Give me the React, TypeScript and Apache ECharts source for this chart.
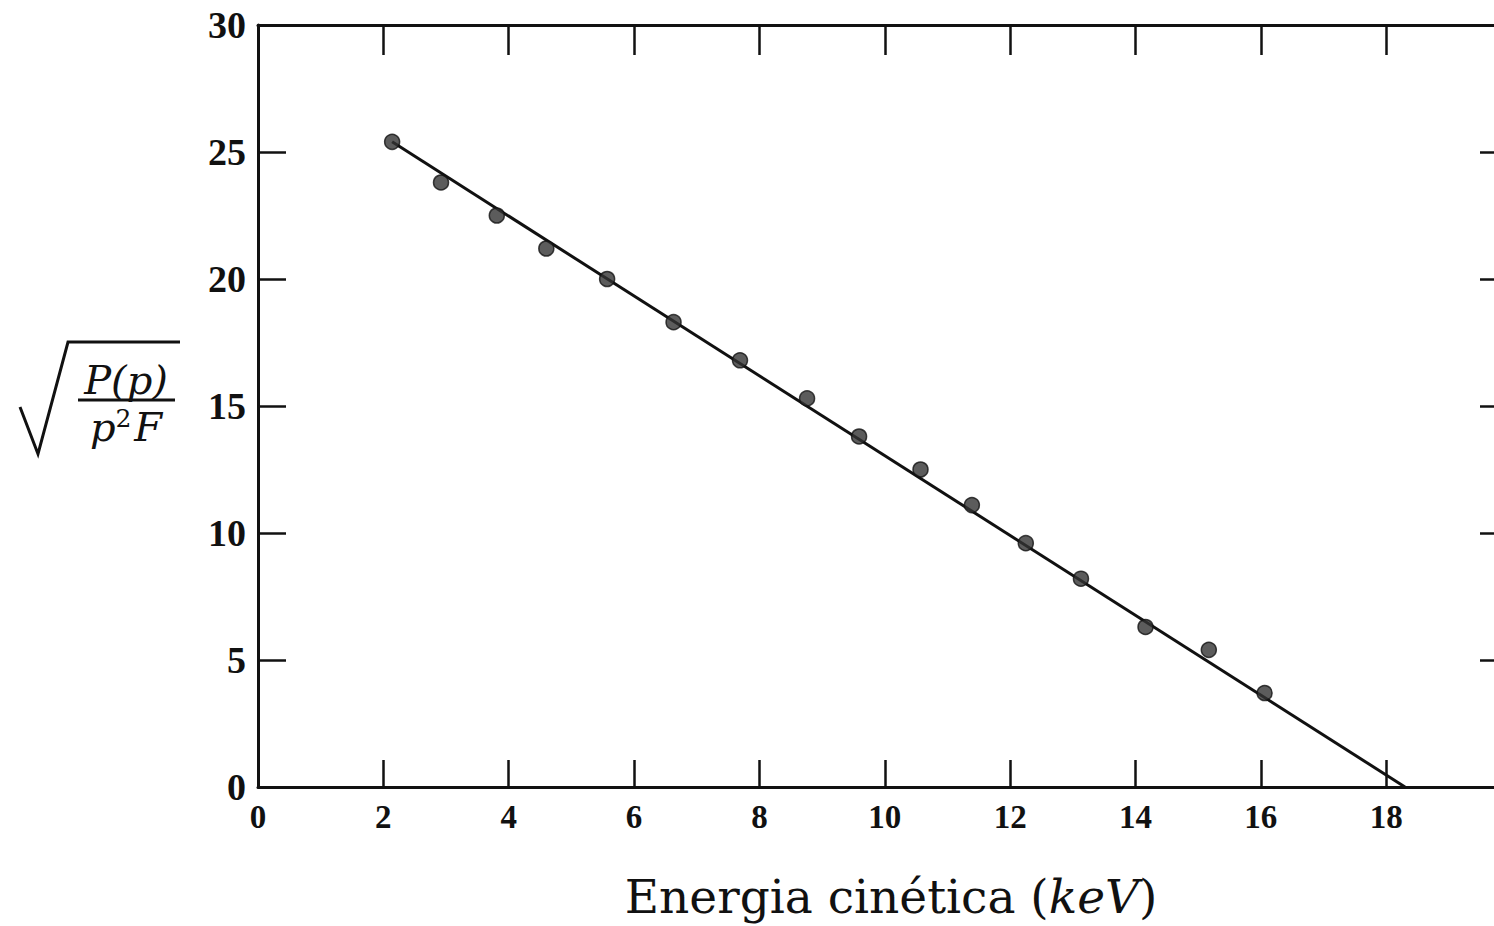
import React, { useEffect, useRef } from "react";
import * as echarts from "echarts";

const energyKeV = [2.14, 2.92, 3.81, 4.6, 5.57, 6.63, 7.69, 8.76, 9.59, 10.57, 11.39, 12.25, 13.13, 14.16, 15.17, 16.06];
const kurieValue = [25.4, 23.8, 22.5, 21.2, 20.0, 18.3, 16.8, 15.3, 13.8, 12.5, 11.1, 9.6, 8.2, 6.3, 5.4, 3.7];
const fitLineX = [2.14, 18.3];
const fitLineY = [25.4, 0];
const xTickLabels = [0, 2, 4, 6, 8, 10, 12, 14, 16, 18];
const xTicks = [2, 4, 6, 8, 10, 12, 14, 16, 18];
const yTickLabels = [0, 5, 10, 15, 20, 25, 30];
const yTicks = [5, 10, 15, 20, 25];

const SERIF = "'Liberation Serif', 'DejaVu Serif', serif";
const WIDE_SERIF = "'DejaVu Serif', 'Liberation Serif', serif";

export default function App() {
  const ref = useRef<HTMLDivElement>(null);
  useEffect(() => {
    if (!ref.current) return;
    const chart = echarts.init(ref.current, null, { renderer: "svg" });
    const axisLine = { show: true, onZero: false, lineStyle: { color: "#111", width: 3 } };
    const tickStyle = { color: "#111", width: 2.5 };
    chart.setOption({
      animation: false,
      backgroundColor: "#fff",
      grid: { left: 258, top: 25, right: 0, bottom: 139, containLabel: false },
      xAxis: [
        {
          type: "value",
          position: "bottom",
          min: 0,
          max: 19.72,
          interval: 2,
          axisLine,
          splitLine: { show: false },
          axisTick: { show: true, inside: true, length: 27, customValues: xTicks, lineStyle: tickStyle },
          axisLabel: {
            customValues: xTickLabels,
            margin: 13,
            color: "#111",
            fontFamily: SERIF,
            fontWeight: "bold",
            fontSize: 33,
          },
        },
        {
          type: "value",
          position: "top",
          min: 0,
          max: 19.72,
          interval: 2,
          axisLine,
          splitLine: { show: false },
          axisTick: { show: true, inside: true, length: 30, customValues: xTicks, lineStyle: tickStyle },
          axisLabel: { show: false },
        },
      ],
      yAxis: [
        {
          type: "value",
          position: "left",
          min: 0,
          max: 30,
          interval: 5,
          axisLine,
          splitLine: { show: false },
          axisTick: { show: true, inside: true, length: 28, customValues: yTicks, lineStyle: tickStyle },
          axisLabel: {
            customValues: yTickLabels,
            margin: 12,
            color: "#111",
            fontFamily: SERIF,
            fontWeight: "bold",
            fontSize: 38,
          },
        },
        {
          type: "value",
          position: "right",
          min: 0,
          max: 30,
          interval: 5,
          axisLine: { show: false, onZero: false },
          splitLine: { show: false },
          axisTick: { show: true, inside: true, length: 14, customValues: yTicks, lineStyle: tickStyle },
          axisLabel: { show: false },
        },
      ],
      series: [
        {
          type: "line",
          data: fitLineX.map((x, i) => [x, fitLineY[i]]),
          showSymbol: false,
          lineStyle: { color: "#111", width: 3 },
          z: 2,
        },
        {
          type: "scatter",
          data: energyKeV.map((x, i) => [x, kurieValue[i]]),
          symbol: "circle",
          symbolSize: 15,
          itemStyle: { color: "#333", borderColor: "#111", borderWidth: 1.5 },
          z: 3,
        },
      ],
      graphic: [
        {
          type: "text",
          x: 891,
          y: 896,
          style: {
            text: "{n|Energia cinética (}{i|keV}{n|)}",
            align: "center",
            verticalAlign: "middle",
            rich: {
              n: { fontFamily: WIDE_SERIF, fontSize: 47, fill: "#111" },
              i: { fontFamily: WIDE_SERIF, fontSize: 47, fontStyle: "italic", fill: "#111" },
            },
          },
        },
        {
          type: "polyline",
          shape: { points: [[20, 407], [38, 454], [68, 342], [180, 342]] },
          style: { stroke: "#111", lineWidth: 3, fill: "none" },
        },
        {
          type: "line",
          shape: { x1: 78, y1: 400, x2: 175, y2: 400 },
          style: { stroke: "#111", lineWidth: 3 },
        },
        {
          type: "text",
          x: 126,
          y: 380,
          style: {
            text: "P(p)",
            align: "center",
            verticalAlign: "middle",
            fontFamily: WIDE_SERIF,
            fontSize: 40,
            fontStyle: "italic",
            fill: "#111",
          },
        },
        {
          type: "text",
          x: 126,
          y: 427,
          style: {
            text: "{i|p}{s|2}{i|F}",
            align: "center",
            verticalAlign: "middle",
            rich: {
              i: { fontFamily: WIDE_SERIF, fontSize: 40, fontStyle: "italic", fill: "#111" },
              s: { fontFamily: WIDE_SERIF, fontSize: 25, fill: "#111", padding: [0, 3, 18, 0] },
            },
          },
        },
      ],
    });
    return () => chart.dispose();
  }, []);
  return <div ref={ref} style={{ position: "absolute", left: 0, top: 0, width: 1494, height: 926 }} />;
}
